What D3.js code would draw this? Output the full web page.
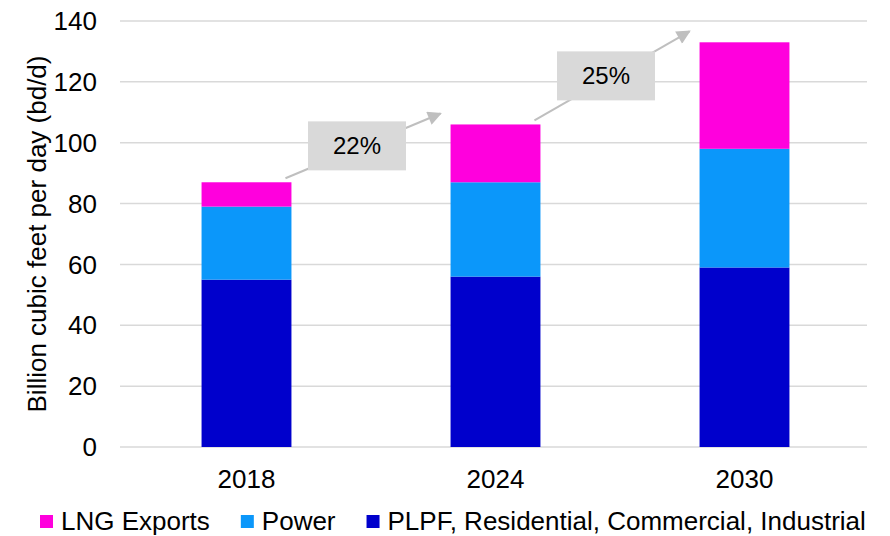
<!DOCTYPE html>
<html>
<head>
<meta charset="utf-8">
<script src="https://cdn.jsdelivr.net/npm/d3@7"></script>
<style>
  body { margin: 0; background: #fff; }
  svg { font-family: "Liberation Sans", Arial, sans-serif; display: block; }
</style>
</head>
<body>
<svg width="890" height="536"></svg>
<script>
const years = ["2018", "2024", "2030"];
const plpf = [55, 56, 59];
const power = [24, 31, 39];
const lng = [8, 19, 35];
const growthLabels = ["22%", "25%"];
const seriesNames = ["PLPF, Residential, Commercial, Industrial", "Power", "LNG Exports"];
const legendOrder = ["LNG Exports", "Power", "PLPF, Residential, Commercial, Industrial"];
const yTicks = [0, 20, 40, 60, 80, 100, 120, 140];

const svg = d3.select("svg");

const color = d3.scaleOrdinal()
  .domain(seriesNames)
  .range(["#0000cc", "#0b97fa", "#ff00dd"]);

const rows = years.map((yr, i) => ({
  year: yr,
  [seriesNames[0]]: plpf[i],
  [seriesNames[1]]: power[i],
  [seriesNames[2]]: lng[i]
}));

const stack = d3.stack().keys(seriesNames);
const stacked = stack(rows);

const x = d3.scaleBand()
  .domain(years)
  .range([122, 869])
  .paddingInner(0.639)
  .paddingOuter(0.3195);

const y = d3.scaleLinear()
  .domain([0, 140])
  .range([447, 21]);

// gridlines
svg.append("g")
  .selectAll("line")
  .data(yTicks)
  .join("line")
  .attr("x1", 120)
  .attr("x2", 867)
  .attr("y1", d => y(d))
  .attr("y2", d => y(d))
  .attr("stroke", "#d9d9d9")
  .attr("stroke-width", 1.5);

// y tick labels
svg.append("g")
  .selectAll("text")
  .data(yTicks)
  .join("text")
  .attr("x", 97)
  .attr("y", d => y(d))
  .attr("dy", "0.35em")
  .attr("text-anchor", "end")
  .attr("font-size", 26)
  .attr("fill", "#000")
  .text(d => d);

// y axis title
svg.append("text")
  .attr("transform", `translate(37, ${(y(0) + y(140)) / 2}) rotate(-90)`)
  .attr("text-anchor", "middle")
  .attr("dy", "0.35em")
  .attr("font-size", 26)
  .text("Billion cubic feet per day (bd/d)");

// bars
svg.append("g")
  .selectAll("g")
  .data(stacked)
  .join("g")
  .attr("fill", d => color(d.key))
  .selectAll("rect")
  .data(d => d)
  .join("rect")
  .attr("x", d => x(d.data.year))
  .attr("width", x.bandwidth())
  .attr("y", d => y(d[1]))
  .attr("height", d => y(d[0]) - y(d[1]));

// x labels
svg.append("g")
  .selectAll("text")
  .data(years)
  .join("text")
  .attr("x", d => x(d) + x.bandwidth() / 2)
  .attr("y", 488)
  .attr("text-anchor", "middle")
  .attr("font-size", 26)
  .text(d => d);

// growth arrows
const totals = years.map((yr, i) => plpf[i] + power[i] + lng[i]);

svg.append("defs").append("marker")
  .attr("id", "arrow")
  .attr("viewBox", "0 0 10 10")
  .attr("refX", 9)
  .attr("refY", 5)
  .attr("markerWidth", 8)
  .attr("markerHeight", 7)
  .attr("markerUnits", "strokeWidth")
  .attr("orient", "auto")
  .append("path")
  .attr("d", "M0,0 L10,5 L0,10 Z")
  .attr("fill", "#bfbfbf");

const arrows = growthLabels.map((label, i) => {
  const x1 = x(years[i]) + x.bandwidth() - 6;
  const y1 = y(totals[i]) - 4;
  const x2 = x(years[i + 1]) - 10;
  const y2 = y(totals[i + 1]) - 11;
  return { label, x1, y1, x2, y2 };
});

const annG = svg.append("g");

annG.selectAll("line")
  .data(arrows)
  .join("line")
  .attr("x1", d => d.x1)
  .attr("y1", d => d.y1)
  .attr("x2", d => d.x2)
  .attr("y2", d => d.y2)
  .attr("stroke", "#bfbfbf")
  .attr("stroke-width", 2)
  .attr("marker-end", "url(#arrow)");

const boxW = 98, boxH = 49;

const boxes = annG.selectAll("g.box")
  .data(arrows)
  .join("g")
  .attr("class", "box")
  .attr("transform", d => `translate(${(d.x1 + d.x2) / 2 - 6}, ${(d.y1 + d.y2) / 2})`);

boxes.append("rect")
  .attr("x", -boxW / 2)
  .attr("y", -boxH / 2)
  .attr("width", boxW)
  .attr("height", boxH)
  .attr("fill", "#d9d9d9");

boxes.append("text")
  .attr("text-anchor", "middle")
  .attr("dy", "0.35em")
  .attr("font-size", 24)
  .text(d => d.label);

// legend
const legendG = svg.append("g").attr("transform", "translate(40, 0)");
let lx = 0;
legendOrder.forEach(name => {
  const item = legendG.append("g").attr("transform", `translate(${lx}, 0)`);
  item.append("rect")
    .attr("x", 0)
    .attr("y", 515)
    .attr("width", 13)
    .attr("height", 13)
    .attr("fill", color(name));
  const t = item.append("text")
    .attr("x", 21)
    .attr("y", 530)
    .attr("font-size", 26)
    .text(name);
  lx += 21 + t.node().getComputedTextLength() + 31;
});
</script>
</body>
</html>
